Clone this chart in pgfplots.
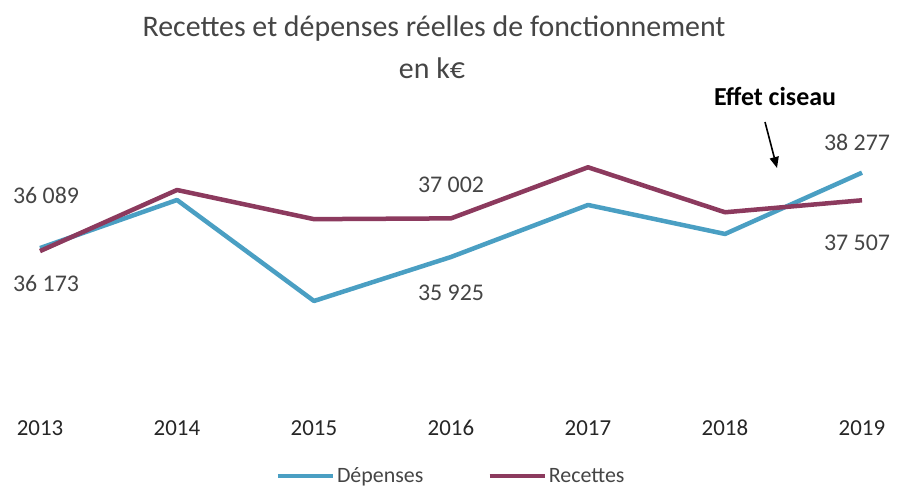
\documentclass[border=0pt]{standalone}
\usepackage{pgfplots}
\pgfplotsset{compat=1.18}
\usepackage{fontspec}
\setmainfont{Carlito}
\usetikzlibrary{arrows.meta}
\definecolor{dep}{HTML}{4A9FC3}
\definecolor{rec}{HTML}{8C3A5E}
\definecolor{txt}{HTML}{454545}
\begin{document}
\begin{tikzpicture}[x=1bp,y=1bp]
\useasboundingbox (0,0) rectangle (902,491);
\begin{axis}[
  at={(40bp,91bp)}, anchor=south west,
  width=822bp, height=270bp, scale only axis,
  xmin=2013, xmax=2019, ymin=31935, ymax=39468,
  axis line style={draw=none},
  ytick=\empty, xtick={2013,...,2019},
  major tick length=0pt,
  /pgf/number format/assume math mode=true,
  xticklabel={\pgfmathprintnumber[1000 sep={}]{\tick}},
  xticklabel style={anchor=center, yshift=-28bp, font=\fontsize{23}{23}\selectfont, text=black!85},
  clip=false,
  legend columns=2,
  legend style={draw=none, at={(0.5,-0.282)}, anchor=center, font=\fontsize{22}{22}\selectfont\color{txt},
    inner sep=0pt,
    /tikz/every even column/.append style={column sep=62bp}},
  legend image code/.code={\draw[#1, line width=4.5bp] (0bp,0bp) -- (55bp,0bp);},
]
\addplot[dep, line width=4.5bp, line join=round] coordinates {
(2013,36173) (2014,37515) (2015,34697) (2016,35925) (2017,37376) (2018,36567) (2019,38277)};
\addlegendentry{Dépenses}
\addplot[rec, line width=4.5bp, line join=round] coordinates {
(2013,36089) (2014,37794) (2015,36980) (2016,37002) (2017,38428) (2018,37172) (2019,37507)};
\addlegendentry{Recettes}
\end{axis}
\begin{scope}[every node/.style={font=\fontsize{24}{24}\selectfont, text=txt}]
\node at (46,296) {36 089};
\node at (46,207) {36 173};
\node at (451,306) {37 002};
\node at (451,198) {35 925};
\node at (857,349) {38 277};
\node at (857,248) {37 507};
\end{scope}
\node[font=\fontsize{30}{30}\selectfont, text=txt] at (434,462) {Recettes et dépenses réelles de fonctionnement};
\node[font=\fontsize{30}{30}\selectfont, text=txt] at (432,423) {en k€};
\node[font=\bfseries\fontsize{26}{26}\selectfont] at (775,394) {Effet ciseau};
\draw[-{Triangle[length=11bp,width=9bp]}, line width=1.6bp] (765,369) -- (777,323);
\end{tikzpicture}
\end{document}
